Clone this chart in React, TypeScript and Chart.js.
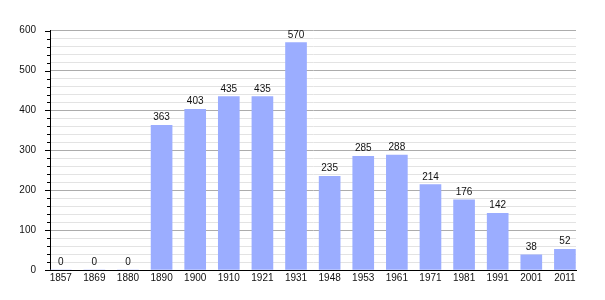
import React, { useEffect, useRef } from "react";
import { Chart, registerables } from "chart.js";

Chart.register(...registerables);

const categories = ["1857", "1869", "1880", "1890", "1900", "1910", "1921", "1931", "1948", "1953", "1961", "1971", "1981", "1991", "2001", "2011"];
const population = [0, 0, 0, 363, 403, 435, 435, 570, 235, 285, 288, 214, 176, 142, 38, 52];
const yMax = 600;
const yStep = 20;
const yMajor = 100;

const FONT = "'Liberation Sans', Arial, sans-serif";

const labelsPlugin = {
  id: "valueLabels",
  afterDatasetsDraw(chart: any) {
    const ctx = chart.ctx;
    const meta = chart.getDatasetMeta(0);
    ctx.save();
    ctx.font = `10px ${FONT}`;
    ctx.fillStyle = "#111";
    ctx.textAlign = "center";
    ctx.textBaseline = "alphabetic";
    meta.data.forEach((el: any, i: number) => {
      ctx.fillText(String(population[i]), el.x, el.y - 5);
    });
    ctx.restore();
  },
  afterDraw(chart: any) {
    const ctx = chart.ctx;
    const area = chart.chartArea;
    const y = chart.scales.y;
    ctx.save();
    ctx.strokeStyle = "#000";
    ctx.lineWidth = 1;
    ctx.beginPath();
    y.ticks.forEach((t: any) => {
      const py = Math.round(y.getPixelForValue(t.value)) + 0.5;
      const len = t.value % yMajor === 0 ? 5 : 3;
      ctx.moveTo(area.left - len, py);
      ctx.lineTo(area.left, py);
    });
    const by = Math.round(area.bottom) + 0.5;
    ctx.moveTo(area.left - 5, by);
    ctx.lineTo(area.right, by);
    ctx.stroke();
    ctx.restore();
  },
};

export default function App() {
  const ref = useRef<HTMLCanvasElement>(null);
  useEffect(() => {
    if (!ref.current) return;
    const chart = new Chart(ref.current, {
      type: "bar",
      data: {
        datasets: [
          {
            data: population.map((v, i) => ({ x: i, y: v })),
            backgroundColor: "#9badff",
            borderWidth: 0,
            barThickness: 21,
          },
        ],
      },
      options: {
        responsive: false,
        animation: false,
        events: [],
        layout: { padding: { top: 30.7, right: 29, left: 0, bottom: 0 } },
        plugins: { legend: { display: false }, tooltip: { enabled: false } },
        scales: {
          x: {
            type: "linear",
            offset: false,
            min: -0.32,
            max: 15.33,
            grid: { display: false, drawTicks: false },
            border: { color: "#000", width: 1 },
            afterBuildTicks: (scale: any) => {
              scale.ticks = categories.map((_, i) => ({ value: i }));
            },
            afterFit: (scale: any) => {
              scale.height = 30;
            },
            ticks: {
              autoSkip: false,
              maxRotation: 0,
              padding: 2,
              color: "#111",
              font: { family: FONT, size: 10 },
              callback: (v: any) => categories[v] ?? "",
            },
          },
          y: {
            min: 0,
            max: yMax,
            afterFit: (scale: any) => {
              scale.width = 50;
            },
            border: { color: "#000", width: 1 },
            grid: {
              color: (c: any) => (c.tick && c.tick.value % yMajor === 0 ? "#acacac" : "#e3e3e3"),
              tickColor: "rgba(0,0,0,0)",
              tickLength: 4,
            },
            ticks: {
              stepSize: yStep,
              padding: 10,
              color: "#111",
              font: { family: FONT, size: 10 },
              autoSkip: false,
              callback: (v: any) => (v % yMajor === 0 ? String(v) : ""),
            },
          },
        },
      },
      plugins: [labelsPlugin],
    });
    return () => chart.destroy();
  }, []);
  return (
    <div style={{ position: "fixed", left: 0, top: 0, width: 605, height: 300, background: "#fff" }}>
      <canvas ref={ref} width={605} height={300} />
    </div>
  );
}
